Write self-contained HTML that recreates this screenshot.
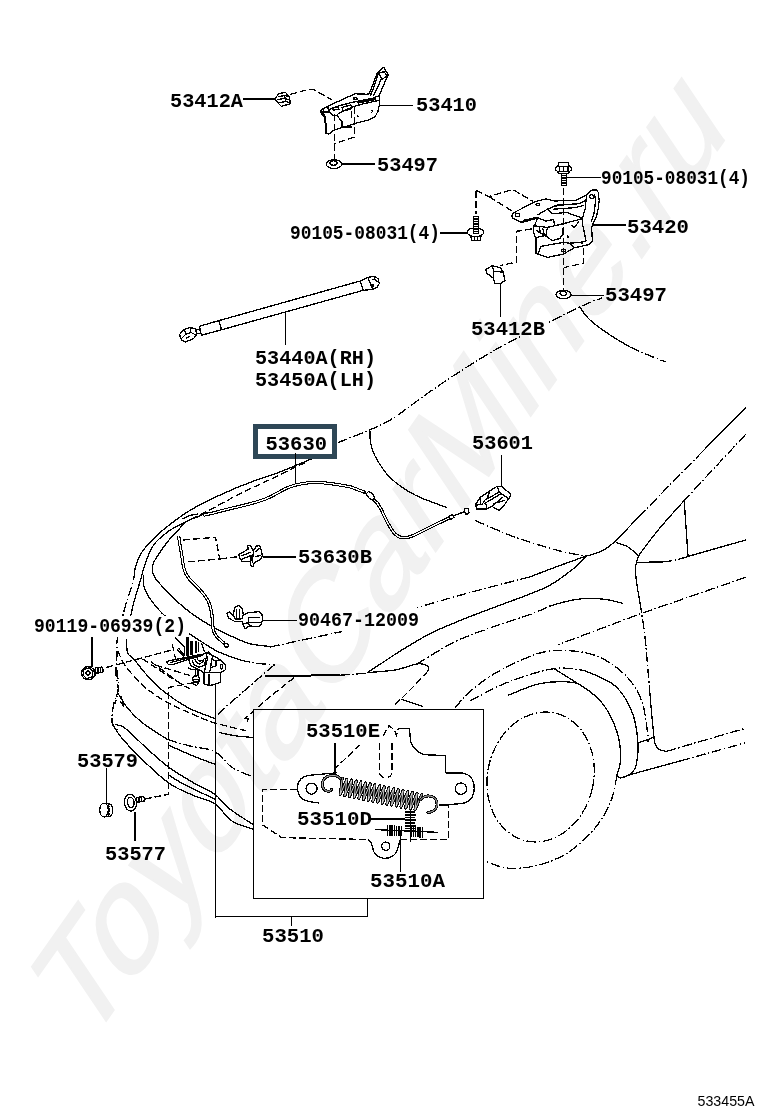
<!DOCTYPE html>
<html><head><meta charset="utf-8"><title>533455A</title>
<style>
html,body{margin:0;padding:0;background:#fff;}
body{width:760px;height:1112px;overflow:hidden;position:relative;font-family:"Liberation Sans",sans-serif;}
svg{position:absolute;left:0;top:0;display:block}
.lb{font-family:"Liberation Mono",monospace;font-weight:bold;font-size:21px;fill:#000}
.wm{font-family:"Liberation Sans",sans-serif;font-size:114px;fill:#f1f1f1;stroke:#f1f1f1;stroke-width:1.6px}
.t{fill:none;stroke:#000;stroke-width:1.3;stroke-linecap:round;stroke-linejoin:round}
.b{fill:none;stroke:#000;stroke-width:2;stroke-linecap:butt}
.d{fill:none;stroke:#000;stroke-width:1.3;stroke-dasharray:7 3}
.dd{fill:none;stroke:#000;stroke-width:1.3;stroke-dasharray:10 2.5 1.5 2.5}
.w{fill:#fff;stroke:#000;stroke-width:1.3;stroke-linejoin:round}
</style></head><body>
<svg width="760" height="1112" viewBox="0 0 760 1112" shape-rendering="crispEdges">
<rect width="760" height="1112" fill="#fff"/>

<!-- D: car body -->
<g id="car">
<path class="dd"  d="M337.9,442.6C343.2,440.5 360.3,434.1 369.5,430C378.7,425.9 383.3,424.4 393.2,418.2C403.1,411.9 416.9,400.7 428.7,392.5C440.5,384.3 451.7,376.7 464.2,368.8C476.7,360.9 489.9,352.7 503.7,345.1C517.5,337.5 534,330 547.1,323.4C560.2,316.8 573.4,310 582.6,305.7C591.8,301.4 599.1,299.1 602.4,297.8"/>
<path class="t"  d="M580,307.5C581.7,309.6 585,315.4 590,320C595,324.6 603.3,330.5 610,335C616.7,339.5 626.7,345 630,347"/>
<path class="dd"  d="M630,347C633,348.3 642,352.5 648,355C654,357.5 663,360.8 666,362"/>
<path class="t"  d="M370,431.5C370.1,433.2 369.7,437.9 370.5,442C371.3,446.1 371.8,450.1 375,456C378.2,461.9 383.3,471 390,477.5C396.7,484 405.5,490 415,495C424.5,500 441.5,505.4 446.8,507.5"/>
<path class="dd"  d="M475.3,520.5C478.9,522.1 489.6,526.9 497,530C504.4,533.1 509.5,535.5 520,539C530.5,542.5 549,548.2 560,551C571,553.8 581.7,555.2 586,556"/>
<path class="t"  d="M745.8,407.4L703,451"/>
<path class="dd"  d="M703,451L640,515.5"/>
<path class="t"  d="M640,515.5C635.8,519.9 621,535.7 614.7,541.6C608.4,547.5 606.7,548.6 602,551C597.3,553.4 588.9,555.3 586.3,556.2"/>
<path class="dd"  d="M745.8,434.2L684.2,500.5"/>
<path class="t"  d="M684.2,500.5C680,505.2 665.5,521.2 659,529C652.5,536.8 648.4,542.5 645,547C641.6,551.5 639.9,553.4 638.5,556C637.1,558.6 636.8,561.4 636.5,562.5"/>
<path class="t"  d="M616.3,542.5C618.2,543.2 624.3,544.8 628,547C631.7,549.2 636.7,554.3 638.4,555.8"/>
<path class="t"  d="M684.2,500.5L688,556"/>
<path class="t"  d="M636.8,562.3L662,562"/>
<path class="dd"  d="M662,562C664.3,561.7 671.7,560.9 676,560C680.3,559.1 686,557 688,556.4"/>
<path class="t"  d="M688,556.4L745.8,540"/>
<path class="t"  d="M636.5,562.5C636.3,563.8 635.2,566.2 635.3,570C635.4,573.8 636.2,579.5 637,585C637.8,590.5 639.5,600 640,603"/>
<path class="dd"  d="M640,603C640.8,608.3 643.5,624.4 644.7,634.7C646,645 646.7,656 647.5,665C648.3,674 649.2,684.5 649.5,688.4"/>
<path class="t"  d="M649.5,688.4C649.8,692.3 650.8,704.1 651.5,712C652.2,719.9 653.3,730.7 653.9,736C654.5,741.3 654.1,741.8 655,744C655.9,746.2 657.1,748.3 659,749.5C660.9,750.7 665.2,751.1 666.5,751.4"/>
<path class="dd"  d="M666.5,751.4C672.1,749.8 687,745.3 700,741.5C713,737.7 737.2,730.7 744.7,728.5"/>
<path class="t"  d="M616.9,775.5C617.4,775.9 618.8,777.5 620,777.8C621.2,778.1 621.6,778.1 624,777.4C626.4,776.7 624.8,776.3 634.1,773.6C643.4,770.9 672.4,763.1 680,761"/>
<path class="dd"  d="M680,761L744.7,743"/>
<path class="dd"  d="M745.8,577.3L641.6,613.3L557.9,644.8"/>
<path class="t"  d="M586.3,556C581.9,557.6 569.4,562 560,565.5C550.6,569 535,574.9 530,576.8"/>
<path class="dd"  d="M530,576.8C520,579.4 488.8,587.4 470,592.5C451.2,597.6 425.8,605.1 417,607.6"/>
<path class="t"  d="M586.3,556C584.2,558.1 579.5,563.7 573.7,568.4C567.9,573.1 558.9,579.9 551.6,584.2C544.3,588.5 542.7,589 530,594C517.3,599 491.3,608.2 475.3,614.5C459.3,620.8 445.6,626.2 434.2,631.6C422.8,637 415.4,641.9 406.8,647C398.2,652.1 389.4,658.1 382.9,662.4C376.3,666.7 370.1,670.9 367.5,672.6"/>
<path class="dd"  d="M417,664C419.3,662.6 424.5,659.2 430.8,655.5C437.1,651.8 445,646.3 454.7,641.8C464.4,637.2 476.4,632.8 489,628.2C501.6,623.7 519.8,618.2 530,614.5C540.2,610.8 546.7,607.4 550,606"/>
<path class="t"  d="M550,606C552.9,605.2 561.4,602.5 567.4,601.2C573.4,599.9 580,598.7 586.3,598.4C592.6,598.1 599.2,598.6 605.3,599.4C611.3,600.2 619.7,602.6 622.6,603.2"/>
<path class="dd"  d="M455,708C457.5,705.2 463.1,697.4 470,691.5C476.9,685.6 485.2,678.8 496.7,672.4C508.1,666 526.6,657 538.7,653.4C550.8,649.8 559,650.1 569.2,650.7C579.4,651.3 590.2,652.9 599.7,657.2C609.2,661.5 619.4,669 626.4,676.3C633.4,683.6 638.2,691.8 641.7,701C645.2,710.2 646.4,724.8 647.4,731.6C648.4,738.4 647.9,740.3 648,742"/>
<path class="dd"  d="M470,701C476.4,697.8 494.2,687.4 508.2,682C522.2,676.6 541.3,670.5 554,668.6C566.7,666.7 579.4,670.2 584.5,670.5"/>
<path class="t"  d="M584.5,670.5C589.6,673 607,678.8 615,685.8C623,692.8 628.4,703 632.2,712.5C636,722 637.3,734.1 637.9,743C638.5,751.9 637.3,760.7 636,765.9C634.7,771.1 632.2,772.1 630,774C627.8,775.9 623.8,776.8 622.6,777.4"/>
<path class="t"  d="M508.2,695.3C513.3,693.4 528.5,686.1 538.7,683.9C548.9,681.7 561.6,681.4 569.2,682C576.8,682.6 578.8,683.9 584.5,687.7C590.2,691.5 598.2,697.6 603.6,704.9C609,712.2 614,722.7 616.9,731.6C619.8,740.5 620.7,751 620.7,758.3C620.7,765.6 617.5,772.6 616.9,775.5"/>
<path class="t"  d="M554,668.6L584.5,687.7"/>
<path class="t"  d="M637.9,743L653.9,737.3"/>
<path class="dd"  d="M616.9,775.5C616,779.6 614.7,791.7 611.2,800.3C607.7,808.9 602.9,818.4 595.9,827C588.9,835.6 578.7,845.4 569.2,851.8C559.7,858.1 548.9,862.4 538.7,865.1C528.5,867.8 517.1,868.8 508.2,868.2C499.3,867.6 489.1,862.4 485.3,861.3"/>
<path class="t"  d="M311.6,458.9C305.8,461.3 286.7,469.4 276.8,473.2C266.9,477 261.4,478.1 252.4,481.5C243.4,484.9 232.7,489.2 222.9,493.7C213.1,498.2 201.5,503.8 193.4,508.4C185.3,512.9 180.8,516.3 174.5,521C168.2,525.7 161.1,531.3 155.5,536.8C149.9,542.2 144.3,548.1 140.8,553.7C137.3,559.3 135.6,567.7 134.5,570.5"/>
<path class="dd"  d="M134.5,570.5C134.3,572.2 134.6,576.1 133.4,581C132.2,585.9 129,593.7 127.1,600C125.2,606.3 123.7,612.2 122,619C120.3,625.8 117.9,634.8 117.1,640.5C116.3,646.2 117.3,647.4 117.1,653C116.9,658.6 115.8,668 116,674C116.2,680 118.4,684 118.2,689C118,694 115.5,701.2 115,703.7"/>
<path class="d" stroke-dasharray="9 3" d="M305.3,462.5C303.8,463.2 302.5,463.8 296.3,466.8C290.1,469.8 277.5,476 268,480.5C258.5,485 248.8,489.3 239.5,494C230.2,498.7 219.5,504.8 212.4,508.5C205.3,512.2 199.6,515.2 197,516.5"/>
<path class="t"  d="M197,516.5C195,517.4 189.8,519.5 185,522C180.2,524.5 173.5,527.6 168.2,531.5C162.9,535.4 157.3,539.8 153.4,545.3C149.5,550.8 147.1,558.6 145,564.2C142.9,569.8 142.6,573 140.8,579C139.1,585 136,594.7 134.5,600C133,605.3 132.2,609.2 131.8,611"/>
<path class="dd"  d="M131.8,611C131.2,613.8 128.9,623.2 128,628C127.1,632.8 126.8,637.6 126.6,639.5"/>
<path class="t"  d="M126.6,639.5C126.8,641.8 126.4,649.8 127.6,653C128.8,656.2 130.8,655.4 133.7,658.8C136.6,662.2 140.4,667.9 145.3,673.3C150.2,678.7 156,685.2 163.2,691C170.4,696.8 179.8,703.3 188.4,707.9C197,712.5 210.2,716.6 214.5,718.4"/>
<path class="t"  d="M207.4,512.5C205.8,513.2 201,515.4 197.6,516.8C194.2,518.2 190.2,518.9 187.1,521C183.9,523.1 181.8,526.2 178.7,529.5C175.5,532.8 171.7,536.6 168.2,541C164.7,545.4 160.2,551.6 157.6,555.8C155,560 152.9,562.7 152.4,566.3C151.9,569.9 152.5,573.4 154.7,577.4C156.9,581.4 161.9,585.8 165.8,590C169.8,594.2 173.7,598.4 178.4,602.6C183.1,606.8 188.1,611.1 194.2,615.3C200.2,619.5 208.6,624.5 214.7,627.9C220.8,631.3 224.7,633.2 230.5,635.8C236.3,638.4 242.9,641.9 249.5,643.7C256.1,645.5 266.6,646 270,646.5"/>
<path class="t"  d="M182,519C183.3,518.4 187.4,516.3 190,515.5C192.6,514.7 196.3,514.2 197.6,514"/>
<path class="t"  d="M143.7,575.8C143.7,577.4 142.9,581.9 143.7,585.3C144.5,588.7 145.2,591.6 148.4,596.3C151.6,601 156.8,608.2 162.6,613.7C168.4,619.2 176.6,624.8 183.2,629.5C189.8,634.2 196.3,638.4 202.1,642.1C207.9,645.8 211.6,648.6 217.9,651.6C224.2,654.6 236.3,658.6 240,660"/>
<path class="dd"  d="M240,660C243,660.6 252.2,662.8 258,663.5C263.8,664.2 271.9,664.3 274.7,664.5"/>
<path class="dd"  d="M270,647C275,645.9 288,643.1 300,640.5C312,637.9 334.8,633.1 341.8,631.6"/>
<path class="dd"  d="M274.7,664.5C270.5,668.1 257.9,679 249.5,686.3C241.1,693.6 229.7,703.3 224.2,708.4C218.7,713.5 217.8,715.6 216.5,717"/>
<path class="b" stroke-width="1.500" d="M265,676L340,675.2"/>
<path class="dd"  d="M340,675.2L367.5,673.2"/>
<path class="d"  d="M294,677.8L270,696.6L245,718.4"/>
<path class="t"  d="M244.7,718.4L248.5,718.4L247.5,721.5"/>
<path class="t"  d="M219.5,732.6C222.1,733.1 229.9,735 235.3,735.8C240.7,736.6 249.2,737.1 252,737.4"/>
<path class="t"  d="M367.5,672.6C372.1,672.2 386.7,671.4 395,670C403.3,668.6 411.7,664.7 417.1,664C422.5,663.3 425.6,664.6 427.4,665.8C429.2,667 427.9,670.1 428,671"/>
<path class="d"  d="M428,671C425.6,673.5 418.1,681.8 413.7,686.3C409.3,690.8 405.1,695 401.7,698.3C398.3,701.6 394.6,704.7 393.2,706"/>
<path class="t"  d="M401.7,699.3L422.2,706.2"/>
<path class="dd"  d="M116.8,669.5C117.1,672.6 118.9,682.6 118.4,688.4C117.9,694.2 114.8,698.4 113.7,704.2C112.7,710 111.3,718.7 112.1,723.2C112.9,727.7 117.4,729.7 118.4,731"/>
<path class="d" stroke-dasharray="6 3.5" d="M117.9,651C119.1,653.5 121.3,660.2 125.3,665.8C129.3,671.4 136.5,679.4 142.1,684.7C147.7,690 154.3,694.2 158.9,697.4C163.5,700.6 164,700.9 169.5,703.7C175,706.5 184.6,710.9 192,714C199.4,717.1 204.5,719.8 213.7,722.6C222.9,725.4 241.8,729.6 247.4,731"/>
<path class="t"  d="M117.9,693.2C119.5,695.7 123.4,703 127.4,707.9C131.4,712.8 135.4,717.3 142.1,722.6C148.8,727.9 163.2,736.7 167.4,739.5"/>
<path class="dd"  d="M167.4,739.5C171.2,740.6 182.1,744 190,746C197.9,748 207.7,748 214.7,751.6C221.7,755.2 225.7,763.2 232,767.4C238.3,771.6 249.2,775.2 252.6,776.8"/>
<path class="t"  d="M169,745.3C172.8,747 184.4,752.4 192,755.5C199.6,758.6 210.9,762.8 214.7,764.2"/>
<path class="t"  d="M115.3,724.7C116.9,725.2 119.5,724 124.7,727.9C130,731.8 139.4,741.8 146.8,748.4C154.2,755 161.1,761.6 169,767.4C176.9,773.2 186.6,778.7 194.2,783.2C201.8,787.7 208.9,790 214.7,794.2C220.5,798.4 222.7,803.4 229,808.4C235.3,813.4 248.7,821.6 252.6,824.2"/>
<path class="t"  d="M112.1,723.2C113.4,725.3 115.3,730 120,735.8C124.7,741.6 132.3,750 140.5,757.9C148.7,765.8 160.1,776.9 169,783.2C177.9,789.5 186.6,792.4 194.2,795.8C201.8,799.2 208.4,799.5 214.7,803.7C221,807.9 225.7,816.8 232,821C238.3,825.2 249.2,827.7 252.6,829"/>
<path class="t"  d="M169,775.3C171.6,776.9 177.1,780.8 184.7,784.7C192.3,788.7 209.7,796.6 214.7,799"/>
<path class="t"  d="M121.5,697L123.5,706L120.5,702"/>
<ellipse class="dd" cx="540.600" cy="777" rx="53" ry="65.500" transform="rotate(13 540.600 777)"/>
</g>
<!-- A: left hinge group -->
<g id="hingeL">
<path class="b" d="M243,99.3H276"/>
<path class="w" d="M275.5,97.8L279,93.6L285.5,92.4L289,96.6L290.6,103.7L281.3,106.4L276,100.7Z"/>
<path class="t" d="M279,96.5L284.5,95.5L288.5,96.8M278,99.5L284,98.5L289.5,100M280,102.5L286,101.5L290,103M284.5,95.5L286,101.5"/>
<path class="d" d="M290,94.6L299,91.8L310.5,89.2Q315,89.3 318,92L332.5,100.3" stroke-dasharray="6 4"/>
<!-- hinge body -->
<path class="w" d="M383.7,67.3L388.2,74.8L385.8,80.1L381.1,90.8L379.3,95.5L379.6,100.3L379.3,105L378.1,110.9L375.1,116.8L369.2,119.8L357.4,122.8L354.4,123.9L344.3,126.9L342,127.5L336.6,129.3L332.5,131.1L328.9,134L326,133.4L325.4,119.2L323.6,116.3L320.7,112.7L320.7,110.9L323,108.6L327.8,106.2L355,93.8L368.6,94.3L371.6,87.8L375.7,77.2L377.5,72.4Z" stroke-width="1.3"/>
<path class="t" d="M328.9,109.7L339.6,105.6L351.4,102.6L359.7,100.9L373.9,97.9L379.3,95.5M337.2,114.5L345.5,109.7L355,106.2L363.3,103.8L376.3,100.9L379.6,100.3M378.7,73L384,71.8L387,75.4L382.2,79.5L378.7,73M381.1,79.5L376.3,90.2L373.4,95.5M378.1,74.2L373.4,88.4L371,94.3M332.5,108L338.4,107.4L339,109.5L333.1,110.1L332.5,108M342,107.4L350.9,105L351.7,108.6L343.2,111.2L342,107.4M353.8,97.9L356.8,97.4L357,99.2L354.1,99.7L353.8,97.9M368,93.8L370.4,93.5L370.4,94.9M337.2,115.7L342,121.6L342,127.5M342,127.5L351.4,126.9M351.4,112.1L351.4,117.4M328.9,112.1L333.7,115.7L337.2,115.7M323,108.6L324.2,112.1L328.9,112.1M357.4,115.7L358.6,116.6M371.6,110.3L372.8,111.5L371.6,112.3"/>
<path class="b" d="M327.8,106.2L329.5,112.1M324.8,115.7L326.6,133.4M357.4,102.9L376.3,99.1M321.3,111.2L324.8,115.7" stroke-width="2.2"/>
<path class="t" d="M380,105.2H412" stroke-width="1.3"/>
<!-- dashed box + washer -->
<path class="d" d="M334.400,114V160M354.500,107V137.200L334.400,143.500" stroke-dasharray="6 3.500"/>
<ellipse class="w" cx="334" cy="164.200" rx="7.700" ry="4.500" stroke-width="1.300"/>
<ellipse class="t" cx="333.600" cy="163" rx="3.600" ry="2.200"/>
<path class="b" d="M342,163.800H375"/>
</g>

<!-- B: right hinge group -->
<g id="hingeR">
<!-- top bolt -->
<path class="w" d="M558.2,162.5H568.7L568.2,165L569.5,166.3L571.6,167.5V170L569.5,171.3L568.7,173.2H558.2L557.5,171.3L555.3,170V167.5L557.5,166.3L558.8,165Z" stroke-width="1.4"/>
<path class="t" d="M557.5,166.3H569.5M557.5,171.3H569.5M559.2,166.3V171.3M563.4,166.3V171.3M568,166.3V171.3"/>
<path class="w" d="M561.3,173.2H566.8V185.5H561.3Z" stroke-width="1.4"/>
<path class="t" d="M561.3,175.5H566.8M561.3,178H566.8M561.3,180.5H566.8M561.3,183H566.8" stroke-width="1"/>
<path class="t" d="M566.8,177.4H600" stroke-width="1.4"/>
<!-- left bolt -->
<path class="w" d="M470.600,235.500L471.800,240.800H480L481.200,235.500Z" stroke-width="1.400"/>
<path class="t" d="M474.200,237V240.800M477.800,237V240.800" stroke-width="1"/>
<ellipse class="w" cx="475.400" cy="232.200" rx="8.300" ry="4.300" stroke-width="1.400"/>
<path class="w" d="M473.200,216.300H478.400V233.400H473.200Z" stroke-width="1.400"/>
<path class="t" d="M473.200,219H478.400M473.200,221.500H478.400M473.200,224H478.400M473.200,226.500H478.400M473.200,229H478.400M473.200,231.500H478.400" stroke-width="1"/>
<path class="b" d="M440,232.600H467.200"/>
<!-- dashed guides -->
<path class="d" d="M476,190.500V214" stroke-width="1.400" stroke-dasharray="7 4.5"/>
<path class="d" d="M476,190.500L489,196.600L512.600,189.500L533.500,201.500M489,196.600L512,211" stroke-dasharray="6 4"/>
<path class="d" d="M531.600,229L516.600,231.300V262L500.500,265.600" stroke-width="1.300" stroke-dasharray="7 4"/>
<path class="d" d="M583.300,218V263.300L563.600,267.600" stroke-dasharray="6 4"/>
<!-- hinge body -->
<path class="w" d="M511.8,215.5L512.9,213.5L515.8,211.6L536.3,201.3L545.8,198.9L554.5,201L575.8,200.2L585.3,195.8L588.4,193.4L590.8,190.3L596.3,189.8L598.2,192.3L599.2,200.5L598.2,208.4L596.3,217.1L593.2,222.6L591.6,227.4L592.1,235.3L592.4,241.6L588.4,244.7L574.2,247.9L563.2,254.2L547.4,257.4L537.9,254.2L535.5,253.4L535.5,237.6L533.5,232.1L533.9,226.6L537.9,217.9L521.3,222.6L512.6,217.9Z" stroke-width="1.3"/>
<path class="t" d="M554.5,205.3L578.9,203.7L585.3,200.5M553.7,209.2L575.8,207.6L583.7,205.3M537.9,214.7L547.4,209.2L554.5,206.1L563.2,205.3M586.5,195.5L585.3,208.4L582.1,219.5L582.9,225.8L586.1,240.8M594.7,195L595.5,200.5L594.4,211.6L591.6,221.1M548.9,210L552.1,213.9L566.3,212.4L582.1,217.9M537.9,217.9L545.8,221.1L553.7,219.5L554.5,225.8L564.7,223.4L582.1,218.7M533.9,225.8L547.4,227.4L554.5,225.8M536.3,230.5L545.8,236.1L547.4,227.4M539.5,227.4L540.3,233.7M542.6,228.2L544.2,234.5M536.3,237.6L545.8,235.3L552.1,240.8L560,238.4L562.4,234.5L563.2,227.4M541.1,246.3L563.2,242.4L569.5,243.2L580.5,242.4L586.1,240.8M541.1,246.3L537.9,254.2M574.2,247.9L569.5,243.2M571.8,225.8L574.2,227.4L578.9,221.8M521.3,222.6L523.7,220.3L537.9,217.1"/>
<ellipse class="t" cx="517.4" cy="215" rx="2.3" ry="1.4"/>
<ellipse class="t" cx="537.9" cy="204.5" rx="1.8" ry="1.2"/>
<circle class="t" cx="591.6" cy="196.6" r="2"/>
<ellipse class="t" cx="563.5" cy="250.3" rx="2" ry="1.2"/>
<circle class="t" cx="567.9" cy="236.8" r="0.8"/>
<circle class="t" cx="582.1" cy="243.2" r="0.8"/>
<path class="b" d="M535.6,238V253.5" stroke-width="2.2"/>
<path class="b" d="M593,225H626" stroke-width="1.600"/>
<path class="d" d="M563.600,188V290" stroke-dasharray="8 3"/>
<!-- 53412B clip -->
<path class="w" d="M485.700,269.500L492.100,265.800L500.400,267.600L503.200,272.200L505,280.500L500.400,283.800L494.900,283.300L493,277.800L486.600,273.200Z"/>
<path class="t" d="M492.100,265.800L494,271.300L493,277.800M494,271.300L503.200,272.200"/>
<path class="t" d="M500.400,284V316.500" stroke-width="1.300"/>
<!-- washer -->
<ellipse class="w" cx="563.600" cy="294.600" rx="7.500" ry="4.200" stroke-width="1.300"/>
<ellipse class="t" cx="563.400" cy="293.400" rx="3.300" ry="2"/>
<path class="t" d="M571.500,295.300H603" stroke-width="1.300"/>
</g>

<!-- C: gas strut -->
<g id="strut">
<path class="w" d="M218.600,320.700L360.300,281L363.300,290.300L221.500,329.800Z" stroke-width="1.300"/>
<path class="w" d="M199.600,326.200L218.600,320.700Q220.500,325 221.500,329.800L201.600,335.200Q199.800,331 199.600,326.200Z" stroke-width="1.300"/>
<path class="t" d="M196.500,329.600L199.800,329.200M197,333.500L200.800,333"/>
<path class="w" d="M179.500,334.500L184.200,329.600L190.100,327.500L195.500,329L196.800,334.300L193.700,338.500L185.400,342L181.300,339.700Z" stroke-width="1.300"/>
<path class="t" d="M184.200,329.600L186,334L182,338M190,327.500L191,332.500L186,334M191,332.500L195,334.500M186.500,338l3,-1.500"/>
<path class="w" d="M360.300,281L368,277.400L374,276.300L378.100,278.600L379.300,283.400L377.500,286.900L372.800,289.300L363.300,290.300Z" stroke-width="1.300"/>
<path class="t" d="M368,277.400L370,283L372.800,289.300M374,276.300L375,280L378.500,282M370.500,284.500h2.500v2.500M372,279l2,1"/>
<path class="t" d="M285.400,313.700V344" stroke-width="1.300"/>
</g>

<!-- E: cable, box, 53601, clips -->
<g id="cable">
<!-- 53630 box -->
<rect x="255.500" y="426.500" width="78.700" height="29.700" fill="#fff" stroke="#2e4756" stroke-width="5"/>
<path class="t" d="M295.400,453.500V483.500" stroke-width="1.300"/>
<!-- cable upper (double line) -->
<path d="M204.500,515L210.300,513.700L231.300,508.400C245,505 255,503 264.200,499.500C275,495.500 281,490 289.500,487C298,484 306,482.600 314.700,482.400C322,482.300 330,483.400 340,485L351,487L364.700,492.300" fill="none" stroke="#000" stroke-width="3.300" stroke-linecap="round"/>
<path d="M204.500,515L210.300,513.700L231.300,508.400C245,505 255,503 264.200,499.500C275,495.500 281,490 289.500,487C298,484 306,482.600 314.700,482.400C322,482.300 330,483.400 340,485L351,487L364.700,492.300" fill="none" stroke="#fff" stroke-width="1.200" stroke-linecap="round"/>
<path d="M372,498C376,501 378.400,503.700 381,509C383.500,514 384.500,517 386.800,521C390,527 392,531 395.300,534.200C398,536.800 401,537.800 404,537.800C408,537.800 411,536.600 414.200,535.300L435.300,524.700L450,517.600" fill="none" stroke="#000" stroke-width="3.300"/>
<path d="M372,498C376,501 378.400,503.700 381,509C383.500,514 384.500,517 386.800,521C390,527 392,531 395.300,534.200C398,536.800 401,537.800 404,537.800C408,537.800 411,536.600 414.200,535.300L435.300,524.700L450,517.600" fill="none" stroke="#fff" stroke-width="1.200"/>
<ellipse class="w" cx="370.500" cy="495.800" rx="2.600" ry="4.600" transform="rotate(-40 370.500 495.800)"/>
<path class="t" d="M364.500,491.500l3,4.500"/>
<path class="w" d="M449,516.500l3.500,-1.800l1.500,2.800l-3.500,1.800z"/>
<path class="t" d="M454,515.500L464.700,511.700" stroke-width="1.400"/>
<rect class="w" x="464.800" y="508.400" width="3.800" height="5.600" rx="1" transform="rotate(-15 466.700 511.200)"/>
<!-- cable lower (double line) -->
<path d="M178.700,535.800C179,541 180,545 180.800,549.500C182,556 182.500,562 183.900,568.400C185,573 186.500,575.500 189.200,579L199.700,589.500C203,593 206,597 208.200,601C210,604.500 211,609 211.800,614C212.500,619 212.600,624 213,628C213.400,632 215,635 218,638L224.500,643.500" fill="none" stroke="#000" stroke-width="3.300"/>
<path d="M178.700,535.800C179,541 180,545 180.800,549.500C182,556 182.500,562 183.900,568.400C185,573 186.500,575.500 189.200,579L199.700,589.500C203,593 206,597 208.200,601C210,604.500 211,609 211.800,614C212.500,619 212.600,624 213,628C213.400,632 215,635 218,638L224.500,643.500" fill="none" stroke="#fff" stroke-width="1.200"/>
<circle class="w" cx="226.400" cy="645.200" r="1.900"/>
<!-- dashed box near 53630B -->
<path class="d" d="M182.900,540L215.500,537.300L219.700,559L185,562.100M219.700,559L238.500,556.600" stroke-dasharray="6 3.500"/>
<!-- 53630B clip -->
<path class="w" d="M238.700,554.500L248.200,549.200L247.600,545.500L250.300,545.500L253.400,550.800L256.600,546L259.700,545.500L261.300,550.800L262.400,556L259.700,560.300L254.500,562.400L252.900,566.600L250.800,565.500L250.300,561.300L241.800,561.300L239.700,557.600Z" stroke-width="1.300"/>
<path class="t" d="M241,556L250,552.500M242.500,559L251,555.500M253.400,550.800L252.500,562M255,552l4,-3.500M255.500,556.500l5,-1M251,555.500L251,561"/>
<path class="b" d="M262.900,556.900H296"/>
<!-- 90467 clip -->
<path class="w" d="M227.100,613.400L229.700,611.800L232.900,615L235,607.600L238.200,605.300L241.800,607.600L243.400,615L247.600,612.900L258.700,611.600L261.800,614L262.700,619.200L261.300,624.500L258.700,626.600L249.700,626L245,628.700L242.400,623.400L242.400,621.300L234.500,621.300L228.700,618.200Z" stroke-width="1.300"/>
<path class="t" d="M236.500,609.500V619M239.500,609.500V619M236,619h4.500M232.900,615L235.500,619.500M243.400,615L242,618.500M249,617.500H259.500M250,622.500H260M249,617.500L248,623L249.700,626M242.400,623.400L248,623"/>
<path class="t" d="M263,620.400H296" stroke-width="1.400"/>
<!-- 53601 handle -->
<path class="w" d="M475.500,504.700L480.300,497.400L489.700,491L497.100,486.300L501.300,486.300L510.300,493.700L510.300,496.300L504.500,504.700L499.200,510.500L491.800,506.300L486.600,509L476.600,509Z" stroke-width="1.300"/>
<path class="t" d="M497.100,486.300L499.200,492.100L507.500,498M499.200,492.100L485,500L482,504.500L476.600,505M489.700,491L487,499M484.500,503.500L500.300,494.200M491.800,506.300L503,497M494,503.500L504.500,500.500M480.300,497.400L480.500,503M486.600,509L486,504"/>
<path class="t" d="M501.300,455.500V486.300" stroke-width="1.300"/>
</g>

<!-- F: latch, bolts, grommet -->
<g id="latch">
<!-- dashed lines under latch -->
<path class="d" d="M142.400,658.800L168.400,676.200L190,689M151,661.700L180,683.400M155,665L190.500,675.700" stroke-dasharray="6 4"/>
<!-- bolt 90119 -->
<path class="t" d="M92,634V666.500" stroke-width="1.300"/>
<circle class="w" cx="88.200" cy="673.200" r="6.600" stroke-width="1.400"/>
<path class="t" d="M84,669.500L89.500,667.800L93,671.500L92,677L86.500,678.500L83,675Z"/>
<circle class="t" cx="88" cy="673" r="2"/>
<path class="t" d="M93.500,668.500Q96,670 95.500,675.500"/>
<path class="w" d="M95.500,667.800L102,667L103.300,669.800L102.600,672.500L96,673.200Z"/>
<path class="t" d="M98,667.500V673M100.200,667.200V672.800"/>
<path class="d" d="M106.200,667.500L171.300,650.100" stroke-dasharray="7 4"/>
<!-- latch lever -->
<path class="w" d="M166.6,662.1L169.5,660.7L200.7,654.5L205.5,655.5L204.5,656.9L199.8,656.6L188.4,659.5L174.2,664.2L168.5,664.7Z" stroke-width="1.3"/>
<!-- ribs -->
<path d="M187.500,636V655.500M191.500,641.300V654.500M196,641.300V652.600" stroke="#000" stroke-width="2.700" fill="none"/>
<path class="t" d="M184.600,647V655.500M198.800,642.200V651.700"/>
<path class="d" d="M172.300,644.100L175.600,659.300" stroke-dasharray="4 2.500"/>
<!-- body -->
<path class="w" d="M188.4,659.3L199.8,656.4L206.4,652.6L213.1,655.5L220.6,660.2L225.4,664.9L225.6,669.7L220.6,672.5L203.6,672.5L197.9,668.9L191.3,666.1Z" stroke-width="1.300"/>
<path class="t" d="M195.1,659.3L196.5,662.6L199.3,664L202.6,662.1L204.1,658.8M197.4,658.8L198.4,660.7L200.3,661.3L202,660.2M192.2,660.2L194.1,664.9L198.8,667.3L204.1,665.4L206.4,657.4M206.4,652.6L207.4,659.3L205.5,665.9L204.5,672.5M213.1,655.5L211.6,659.3L215.9,660.7L220.6,660.2M211.6,659.3L210.7,667.8L215.9,665.9L215.9,660.7M210.7,667.8L209.3,672.5M201.7,644.1L204.5,651.7M208.3,651.7L212.6,655.7M175.2,637.9L183.2,646M177.5,649.8L183.7,656.4M178.9,648.8L184.8,655.3M170.4,662.6L188.4,658.1L199.8,655.5M188.4,667.8L191.3,669.7L196,669.7"/>
<ellipse class="t" cx="221.600" cy="666.800" rx="1.200" ry="2.300" stroke-width="1.400"/>
<!-- switch box -->
<path class="w" d="M203.6,672.5L220.6,672.5L220.2,682.5L209.3,685.8L204.5,683.9Z" stroke-width="1.300"/>
<path d="M203.900,672.500V684M209.200,673.500V685.500" stroke="#000" stroke-width="2.400" fill="none"/>
<!-- small bolt below -->
<path class="t" d="M195.600,669.700V676M197.900,669.700V676"/>
<path class="w" d="M192.7,678.2L194.6,676.1L197.9,675.8L199.3,678.2L198.8,682.9L196.5,685.6L193.6,683.9Z" stroke-width="1.400"/>
<path class="t" d="M194,679.500h4.500M194.500,682h3.500"/>
<!-- leaders / dashed -->
<path class="t" d="M215.500,684.500V917" stroke-width="1" stroke-linecap="butt"/>
<path class="d" d="M194,682.600L168.500,687.500V794.300L145.300,799" stroke-dasharray="6 3.500"/>
<!-- 53579 -->
<path class="t" d="M106.600,769V803" stroke-width="1.300"/>
<path class="w" d="M104,803.200L109,803.600Q112.800,805 112.900,810Q112.800,815.500 109,816.600L104,816.900Z" stroke-width="1.300"/>
<ellipse class="w" cx="104" cy="810" rx="4.300" ry="6.900" stroke-width="1.300"/>
<path class="t" d="M108.500,804.500Q110.500,810 108.500,816" stroke-dasharray="2.500 2"/>
<!-- 53577 -->
<ellipse class="w" cx="130.400" cy="802.700" rx="6" ry="8.500" stroke-width="1.600" transform="rotate(-8 130.400 802.700)"/>
<ellipse class="t" cx="130.800" cy="802.400" rx="3.300" ry="5.200" transform="rotate(-8 130.800 802.400)"/>
<path class="w" d="M136.500,797.500L143.500,796.400L144.500,798.800L144,801.300L137,802.300Z"/>
<path class="t" d="M139,797.200V802M141.500,796.800V801.600"/>
<path class="b" d="M134.800,811.500V841" stroke-width="1.600"/>
</g>

<!-- G: detail box -->
<g id="detail">
<rect x="253.500" y="709.500" width="230" height="189" fill="#fff" stroke="#000" stroke-width="1"/>
<!-- bracket -->
<path class="t" d="M215.500,916.500H367.500V899M291.500,916.500V925" stroke-width="1" stroke-linecap="butt"/>
<!-- plate dashed outline -->
<path class="d" d="M297.400,789.600H262.600V825L281.600,837.600L368.400,839.500" stroke-dasharray="7 3"/>
<path class="d" d="M400.300,839.600H448.500V806" stroke-dasharray="9 3"/>
<path class="d" d="M360.500,744.500L335.500,768" stroke-dasharray="6 3"/>
<path class="d" d="M379.500,743V772Q380,777.500 385.500,777.800Q391.500,777.500 392,772V743" stroke-dasharray="8 3"/>
<path class="d" d="M383,736L389,725.800L394,729.500L396.500,735.500L398.400,728.700" stroke-dasharray="5 2.500"/>
<path class="t" d="M398.400,728.700H409.500L410.500,741Q411.500,746 416,749.500Q420,754 426,754.800L445.800,755.500" stroke-width="1.300"/>
<path class="t" d="M445.800,756V772.900" stroke-width="1.300"/>
<!-- left ear -->
<path class="t" d="M297.400,789.600Q297,776 311.600,775.100L336,772.900M297.400,789.600Q299,800 309,801.500L319,803" stroke-width="1.300"/>
<circle class="t" cx="311.600" cy="788.700" r="5.500" stroke-width="1.300"/>
<!-- right ear -->
<path class="t" d="M445.800,772.900H461.600Q474.400,774.500 474.200,788.700Q473.500,802 461.600,803.500L439.500,805.500" stroke-width="1.300"/>
<path class="b" d="M439,804.800H449" stroke-width="2"/>
<circle class="t" cx="460.900" cy="788.700" r="5.700" stroke-width="1.300"/>
<!-- bottom tab -->
<path class="t" d="M368.400,839.500Q371.500,842 372.500,847Q373.500,856 382,858Q392,859.500 396.500,852Q398.500,846 400.300,839.600" stroke-width="1.300"/>
<circle class="t" cx="385.800" cy="846.200" r="4.100" stroke-width="1.300"/>
<!-- spring -->
<path d="M342.3,778.1L340.1,794.8L346.9,779L344.8,795.8L351.6,780L349.4,796.7L356.3,780.9L354.1,797.7L361,781.9L358.8,798.6L365.6,782.8L363.5,799.6L370.3,783.8L368.1,800.5L375,784.7L372.8,801.5L379.7,785.7L377.5,802.4L384.3,786.6L382.2,803.4L389,787.6L386.8,804.3L393.7,788.5L391.5,805.3L398.4,789.5L396.2,806.2L403.1,790.5L400.9,807.2L407.7,791.4L405.6,808.2L412.4,792.4L410.2,809.1L417.1,793.3L414.9,810.1L421.8,794.3" fill="none" stroke="#000" stroke-width="3" stroke-linejoin="round" stroke-linecap="round"/>
<path d="M342.3,778.1L340.1,794.8L346.9,779L344.8,795.8L351.6,780L349.4,796.7L356.3,780.9L354.1,797.7L361,781.9L358.8,798.6L365.6,782.8L363.5,799.6L370.3,783.8L368.1,800.5L375,784.7L372.8,801.5L379.7,785.7L377.5,802.4L384.3,786.6L382.2,803.4L389,787.6L386.8,804.3L393.7,788.5L391.5,805.3L398.4,789.5L396.2,806.2L403.1,790.5L400.9,807.2L407.7,791.4L405.6,808.2L412.4,792.4L410.2,809.1L417.1,793.3L414.9,810.1L421.8,794.3" fill="none" stroke="#fff" stroke-width="0.800" stroke-linejoin="round" stroke-linecap="round"/>
<path d="M340.400,778.600C338,776 336,775.500 334,775.600C330,775.500 327,776 325,778C322.500,780.500 322,783 322.500,786C323,789 325.500,791 328.400,791.400C330,791.300 331,790.500 331.500,789.500" fill="none" stroke="#000" stroke-width="3" stroke-linecap="round"/>
<path d="M340.400,778.600C338,776 336,775.500 334,775.600C330,775.500 327,776 325,778C322.500,780.500 322,783 322.500,786C323,789 325.500,791 328.400,791.400C330,791.300 331,790.500 331.500,789.500" fill="none" stroke="#fff" stroke-width="0.800" stroke-linecap="round"/>
<path d="M420.500,799.800C423,797 425.500,796 428,795.900C431.500,796 434,797 435.500,799C437,801.500 437.500,803.500 437,805.500C436.500,808 435,810 433,811C431,812 429.500,812.500 428,812.500" fill="none" stroke="#000" stroke-width="3" stroke-linecap="round"/>
<path d="M420.500,799.800C423,797 425.500,796 428,795.900C431.500,796 434,797 435.500,799C437,801.500 437.500,803.500 437,805.500C436.500,808 435,810 433,811C431,812 429.500,812.500 428,812.500" fill="none" stroke="#fff" stroke-width="0.800" stroke-linecap="round"/>
<!-- leaders -->
<path class="b" d="M335,742.500V774.500" stroke-width="2"/>
<path class="b" d="M371,819.300H405" stroke-width="2"/>
<path class="t" d="M400.600,832V871" stroke-width="1.300"/>
<!-- small springs -->
<path d="M404.5,812H415.2M405.3,814.8H416M404.5,817.5H415.2M405.3,820.2H416M404.5,823H415.2M405.3,825.8H416M404.5,828.5H415.2M405.3,831.2H416" stroke="#000" stroke-width="1.700" fill="none"/>
<path class="t" d="M410.400,812V841" stroke-width="1.400"/>
<path d="M387.5,825V835.5M389.8,825.2V835.7M392.1,825.3V835.8M394.4,825.4V835.9M396.7,825.6V836.1M399,825.7V836.2M401.3,825.9V836.4M411,826.4V836.9M413.3,826.6V837.1M415.6,826.7V837.2M417.9,826.9V837.4M420.2,827V837.5M422.5,827.1V837.6" stroke="#000" stroke-width="1.500" fill="none"/>
<path class="t" d="M375.400,829.600L437,832.300"/>
</g>

<rect x="33" y="615.5" width="156" height="21.5" fill="#fff"/>
<rect x="470" y="319.5" width="76" height="16.5" fill="#fff"/>
<text class="lb" x="170" y="107" textLength="73" lengthAdjust="spacingAndGlyphs">53412A</text>
<text class="lb" x="416" y="111" textLength="61" lengthAdjust="spacingAndGlyphs">53410</text>
<text class="lb" x="377" y="170.5" textLength="61" lengthAdjust="spacingAndGlyphs">53497</text>
<text class="lb" x="601" y="183.5" textLength="149" lengthAdjust="spacingAndGlyphs">90105-08031(4)</text>
<text class="lb" x="290" y="238.5" textLength="150" lengthAdjust="spacingAndGlyphs">90105-08031(4)</text>
<text class="lb" x="627" y="233.2" textLength="62" lengthAdjust="spacingAndGlyphs">53420</text>
<text class="lb" x="605" y="301.3" textLength="62" lengthAdjust="spacingAndGlyphs">53497</text>
<text class="lb" x="471" y="334.5" textLength="74" lengthAdjust="spacingAndGlyphs">53412B</text>
<text class="lb" x="255" y="363.5" textLength="121" lengthAdjust="spacingAndGlyphs">53440A(RH)</text>
<text class="lb" x="255" y="385.5" textLength="121" lengthAdjust="spacingAndGlyphs">53450A(LH)</text>
<text class="lb" x="265.5" y="450.3" textLength="61.5" lengthAdjust="spacingAndGlyphs">53630</text>
<text class="lb" x="472" y="449" textLength="61" lengthAdjust="spacingAndGlyphs">53601</text>
<text class="lb" x="298" y="563" textLength="74" lengthAdjust="spacingAndGlyphs">53630B</text>
<text class="lb" x="298" y="626" textLength="121" lengthAdjust="spacingAndGlyphs">90467-12009</text>
<text class="lb" x="34" y="632" textLength="152" lengthAdjust="spacingAndGlyphs">90119-06939(2)</text>
<text class="lb" x="77" y="767" textLength="61" lengthAdjust="spacingAndGlyphs">53579</text>
<text class="lb" x="105" y="860" textLength="61" lengthAdjust="spacingAndGlyphs">53577</text>
<text class="lb" x="306" y="737" textLength="74" lengthAdjust="spacingAndGlyphs">53510E</text>
<text class="lb" x="297" y="825" textLength="75" lengthAdjust="spacingAndGlyphs">53510D</text>
<text class="lb" x="370" y="887" textLength="75" lengthAdjust="spacingAndGlyphs">53510A</text>
<text class="lb" x="262" y="942" textLength="62" lengthAdjust="spacingAndGlyphs">53510</text>
<text x="697.5" y="1106.3" font-size="14.2" fill="#000" textLength="57" lengthAdjust="spacingAndGlyphs">533455A</text>
<text class="wm" style="mix-blend-mode:multiply" transform="matrix(0.7145,-1.018,0.6997,1.0396,85,1051)" textLength="902" lengthAdjust="spacingAndGlyphs">ToyotaCarMine.ru</text>
</svg></body></html>
